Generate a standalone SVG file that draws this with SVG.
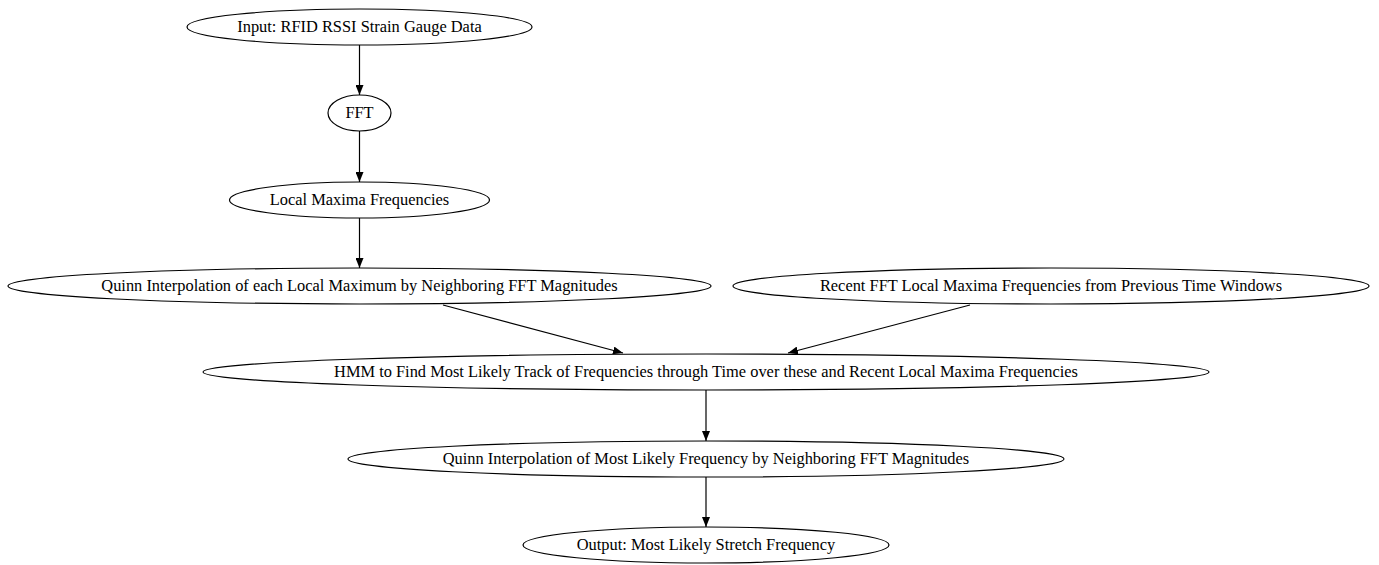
<svg xmlns="http://www.w3.org/2000/svg" width="1379" height="565" viewBox="0 0 1379 565">
<style>
.n ellipse{fill:none;stroke:#000;stroke-width:1.2}
.n text{font-family:"Liberation Serif","Times New Roman",serif;font-size:16.4px;fill:#000;text-anchor:middle}
.e line{stroke:#000;stroke-width:1.2}
</style>
<defs>
<marker id="ah" markerWidth="10" markerHeight="8" refX="10" refY="4" orient="auto" markerUnits="userSpaceOnUse">
<path d="M0,0 L10,4 L0,8 Z" fill="#000"/>
</marker>
</defs>
<rect width="1379" height="565" fill="#fff"/>
<g id="edges" class="e">
<line x1="359.5" y1="45" x2="359.5" y2="95" marker-end="url(#ah)"/>
<line x1="359.5" y1="131" x2="359.5" y2="182" marker-end="url(#ah)"/>
<line x1="359.5" y1="218" x2="359.5" y2="268" marker-end="url(#ah)"/>
<line x1="443" y1="305" x2="623" y2="353" marker-end="url(#ah)"/>
<line x1="970" y1="305" x2="788" y2="353" marker-end="url(#ah)"/>
<line x1="706" y1="390" x2="706" y2="441" marker-end="url(#ah)"/>
<line x1="706" y1="477" x2="706" y2="527" marker-end="url(#ah)"/>
</g>
<g id="n1" class="n"><ellipse cx="359.5" cy="27" rx="172.5" ry="18"/><text x="359.5" y="32">Input: RFID RSSI Strain Gauge Data</text></g>
<g id="n2" class="n"><ellipse cx="359.5" cy="113" rx="31.5" ry="18"/><text x="359.5" y="118">FFT</text></g>
<g id="n3" class="n"><ellipse cx="359.5" cy="200" rx="130" ry="18"/><text x="359.5" y="205">Local Maxima Frequencies</text></g>
<g id="n4" class="n"><ellipse cx="359.5" cy="286" rx="351.5" ry="18"/><text x="359.5" y="291">Quinn Interpolation of each Local Maximum by Neighboring FFT Magnitudes</text></g>
<g id="n5" class="n"><ellipse cx="1051" cy="286" rx="318" ry="18"/><text x="1051" y="291">Recent FFT Local Maxima Frequencies from Previous Time Windows</text></g>
<g id="n6" class="n"><ellipse cx="706" cy="372" rx="503" ry="18"/><text x="706" y="377">HMM to Find Most Likely Track of Frequencies through Time over these and Recent Local Maxima Frequencies</text></g>
<g id="n7" class="n"><ellipse cx="706" cy="459" rx="358" ry="18"/><text x="706" y="464">Quinn Interpolation of Most Likely Frequency by Neighboring FFT Magnitudes</text></g>
<g id="n8" class="n"><ellipse cx="706" cy="545" rx="183" ry="18"/><text x="706" y="550">Output: Most Likely Stretch Frequency</text></g>
</svg>
